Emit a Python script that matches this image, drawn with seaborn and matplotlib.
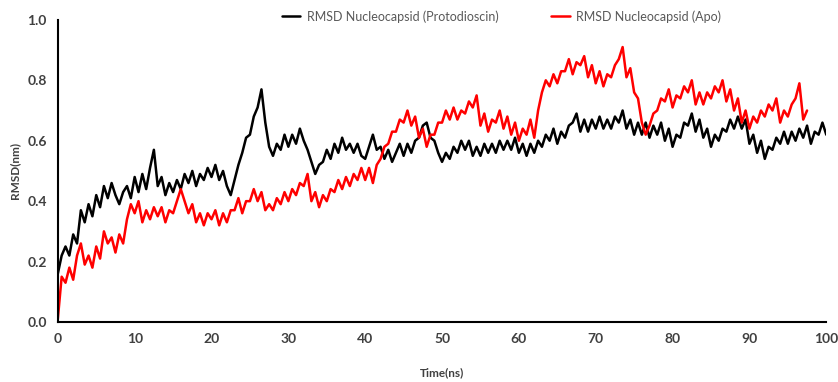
import numpy as np
import pandas as pd
import seaborn as sns
import matplotlib.pyplot as plt

# RMSD values, one value every 0.5 ns
rmsd_proto = [
    0.16, 0.22, 0.25, 0.22, 0.29, 0.26, 0.37, 0.33, 0.39, 0.35,
    0.42, 0.38, 0.45, 0.41, 0.46, 0.42, 0.39, 0.43, 0.45, 0.41,
    0.48, 0.43, 0.49, 0.44, 0.51, 0.57, 0.45, 0.48, 0.42, 0.46,
    0.43, 0.47, 0.44, 0.49, 0.46, 0.50, 0.45, 0.49, 0.47, 0.51,
    0.48, 0.52, 0.47, 0.50, 0.45, 0.42, 0.47, 0.52, 0.56, 0.61,
    0.62, 0.68, 0.71, 0.77, 0.66, 0.58, 0.55, 0.59, 0.57, 0.62,
    0.58, 0.62, 0.59, 0.64, 0.60, 0.57, 0.53, 0.49, 0.52, 0.53,
    0.57, 0.54, 0.59, 0.56, 0.61, 0.57, 0.59, 0.56, 0.59, 0.55,
    0.54, 0.58, 0.62, 0.57, 0.58, 0.54, 0.57, 0.53, 0.56, 0.59,
    0.55, 0.59, 0.56, 0.60, 0.61, 0.65, 0.66, 0.61, 0.60, 0.56,
    0.53, 0.56, 0.54, 0.58, 0.56, 0.60, 0.57, 0.60, 0.55, 0.58,
    0.55, 0.59, 0.56, 0.59, 0.56, 0.60, 0.57, 0.60, 0.57, 0.61,
    0.56, 0.59, 0.55, 0.59, 0.56, 0.60, 0.58, 0.62, 0.60, 0.64,
    0.59, 0.63, 0.61, 0.65, 0.66, 0.69, 0.63, 0.67, 0.63, 0.67,
    0.64, 0.68, 0.64, 0.67, 0.64, 0.68, 0.66, 0.70, 0.64, 0.67,
    0.62, 0.66, 0.62, 0.66, 0.61, 0.65, 0.62, 0.66, 0.60, 0.64,
    0.58, 0.62, 0.61, 0.66, 0.65, 0.69, 0.63, 0.67, 0.61, 0.64,
    0.58, 0.62, 0.60, 0.64, 0.63, 0.67, 0.64, 0.68, 0.64, 0.67,
    0.59, 0.62, 0.56, 0.60, 0.54, 0.58, 0.57, 0.61, 0.59, 0.63,
    0.59, 0.63, 0.60, 0.64, 0.61, 0.65, 0.59, 0.63, 0.62, 0.66,
    0.62,
]
rmsd_apo = [
    0.01, 0.15, 0.13, 0.18, 0.14, 0.22, 0.26, 0.19, 0.22, 0.18,
    0.25, 0.21, 0.30, 0.26, 0.28, 0.23, 0.29, 0.26, 0.34, 0.39,
    0.36, 0.40, 0.33, 0.37, 0.34, 0.38, 0.35, 0.38, 0.33, 0.37,
    0.36, 0.40, 0.44, 0.40, 0.36, 0.39, 0.33, 0.36, 0.32, 0.36,
    0.34, 0.37, 0.32, 0.36, 0.33, 0.37, 0.37, 0.41, 0.36, 0.40,
    0.40, 0.44, 0.40, 0.43, 0.37, 0.39, 0.37, 0.41, 0.39, 0.43,
    0.40, 0.44, 0.42, 0.46, 0.45, 0.49, 0.40, 0.43, 0.38, 0.42,
    0.40, 0.44, 0.43, 0.47, 0.44, 0.48, 0.45, 0.49, 0.47, 0.51,
    0.47, 0.51, 0.46, 0.52, 0.54, 0.58, 0.59, 0.63, 0.63, 0.67,
    0.66, 0.70, 0.65, 0.68, 0.61, 0.64, 0.58, 0.62, 0.62, 0.66,
    0.66, 0.70, 0.67, 0.71, 0.67, 0.70, 0.69, 0.73, 0.71, 0.75,
    0.65, 0.69, 0.63, 0.67, 0.66, 0.70, 0.64, 0.68, 0.62, 0.66,
    0.60, 0.64, 0.62, 0.67, 0.61, 0.70, 0.76, 0.80, 0.78, 0.82,
    0.79, 0.83, 0.83, 0.87, 0.82, 0.86, 0.85, 0.88, 0.81, 0.85,
    0.79, 0.83, 0.78, 0.82, 0.81, 0.85, 0.87, 0.91, 0.81, 0.84,
    0.76, 0.74, 0.66, 0.62, 0.65, 0.69, 0.70, 0.74, 0.73, 0.77,
    0.71, 0.75, 0.74, 0.78, 0.76, 0.80, 0.72, 0.76, 0.72, 0.76,
    0.74, 0.78, 0.76, 0.80, 0.73, 0.77, 0.70, 0.74, 0.66, 0.70,
    0.64, 0.68, 0.66, 0.70, 0.68, 0.72, 0.70, 0.74, 0.66, 0.70,
    0.68, 0.72, 0.74, 0.79, 0.67, 0.70,
]
label_proto = "RMSD Nucleocapsid (Protodioscin)"
label_apo = "RMSD Nucleocapsid (Apo)"
x_ticks = [0, 10, 20, 30, 40, 50, 60, 70, 80, 90, 100]
y_ticks = [0.0, 0.2, 0.4, 0.6, 0.8, 1.0]

# sampling grid of the trajectories (0.5 ns)
t_proto = np.arange(len(rmsd_proto)) * 0.5
t_apo = np.arange(len(rmsd_apo)) * 0.5

df = pd.concat([
    pd.DataFrame({"time": t_proto, "rmsd": rmsd_proto, "run": label_proto}),
    pd.DataFrame({"time": t_apo, "rmsd": rmsd_apo, "run": label_apo}),
])

sns.set_style("white")
plt.rcParams['font.family'] = ['Lato', 'DejaVu Sans']

fig = plt.figure(figsize=(8.38, 3.82), dpi=100)
ax = fig.add_axes([0.069, 0.157, 0.917, 0.791])

sns.lineplot(data=df, x="time", y="rmsd", hue="run", estimator=None, sort=False,
             palette={label_proto: "black", label_apo: "#ff0000"},
             hue_order=[label_proto, label_apo], linewidth=1.8, ax=ax)

ax.set_xlim(0, 100)
ax.set_ylim(0, 1.0)
ax.set_xticks(x_ticks)
ax.set_yticks(y_ticks)
ax.set_yticklabels([f"{v:.1f}" for v in y_ticks])
ax.tick_params(axis="both", direction="out", length=4, width=1.2, color="black",
               labelsize=10, labelcolor="#404040", pad=4)
for lbl in ax.get_xticklabels() + ax.get_yticklabels():
    lbl.set_fontweight("bold")
sns.despine(ax=ax)
for s in ["left", "bottom"]:
    ax.spines[s].set_color("black")
    ax.spines[s].set_linewidth(1.5)

ax.set_xlabel("Time(ns)", fontsize=8.5, fontweight="bold", color="#404040", labelpad=16)
ax.set_ylabel("RMSD(nm)", fontsize=8.5, fontweight="bold", color="#404040", labelpad=5)

leg = ax.legend(loc="upper center", bbox_to_anchor=(0.577, 1.07), ncol=2, frameon=False,
                fontsize=9, handlelength=1.5, handletextpad=0.5, columnspacing=4.2)
for line in leg.get_lines():
    line.set_linewidth(1.8)
for txt in leg.get_texts():
    txt.set_color("#595959")

fig.savefig("out.png", dpi=100)
